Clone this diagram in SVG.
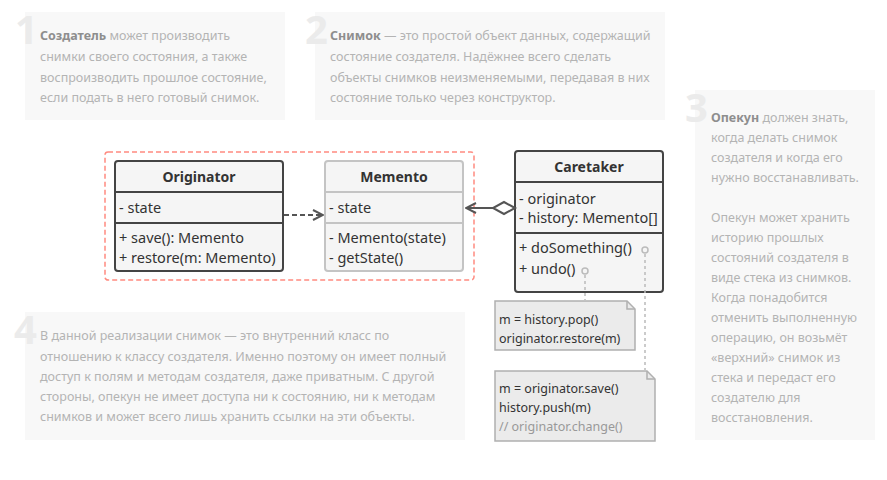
<svg xmlns="http://www.w3.org/2000/svg" width="887" height="480" viewBox="0 0 887 480">
<defs>
<style>
.panel{fill:#f8f8f8}
.num{font-family:"Open Sans","Noto Sans",sans-serif;font-weight:bold;font-size:40px;fill:#ebebeb}
.pt{font-family:"Noto Sans","Open Sans",sans-serif;font-size:12.5px;fill:#b4b4b4}
.pt .b{font-weight:bold;fill:#8e8e8e}
.box{fill:#f5f5f5;stroke:#444;stroke-width:2}
.mbox{fill:#f5f5f5;stroke:#c4c4c4;stroke-width:2}
.sep{stroke:#444;stroke-width:2}
.msep{stroke:#c4c4c4;stroke-width:2}
.hd{font-family:"Noto Sans","Open Sans",sans-serif;font-size:14px;font-weight:bold;fill:#333;text-anchor:middle}
.tx{font-family:"Noto Sans","Open Sans",sans-serif;font-size:14.5px;fill:#333}
.note{fill:#ebebeb;stroke:#b0b0b0;stroke-width:1.5}
.nt{font-family:"Noto Sans","Open Sans",sans-serif;font-size:12.5px;fill:#333}
.cm{fill:#999}
.ln{stroke:#555;stroke-width:2;fill:none}
.dot{stroke:#bbb;stroke-width:1.5;stroke-dasharray:3,3;fill:none}
</style>
<marker id="open" viewBox="0 0 12 12" refX="11" refY="6" markerWidth="12" markerHeight="12" markerUnits="userSpaceOnUse" orient="auto">
<path d="M1,1 L11,6 L1,11" fill="none" stroke="#555" stroke-width="2"/>
</marker>
</defs>

<g id="panel1">
<rect class="panel" x="25" y="12" width="260" height="108"/>
<text class="num" x="15" y="44">1</text>
<text class="pt"><tspan x="40" y="40"><tspan class="b">Создатель</tspan> может производить</tspan><tspan x="40" y="61">снимки своего состояния, а также</tspan><tspan x="40" y="82">воспроизводить прошлое состояние,</tspan><tspan x="40" y="102">если подать в него готовый снимок.</tspan></text>
</g>

<g id="panel2">
<rect class="panel" x="315" y="12" width="350" height="108"/>
<text class="num" x="305" y="44">2</text>
<text class="pt"><tspan x="330" y="40"><tspan class="b">Снимок</tspan> — это простой объект данных, содержащий</tspan><tspan x="330" y="61">состояние создателя. Надёжнее всего сделать</tspan><tspan x="330" y="82">объекты снимков неизменяемыми, передавая в них</tspan><tspan x="330" y="102">состояние только через конструктор.</tspan></text>
</g>

<g id="panel3">
<rect class="panel" x="695" y="90" width="180" height="350"/>
<text class="num" x="685" y="122">3</text>
<text class="pt"><tspan x="711" y="122"><tspan class="b">Опекун</tspan> должен знать,</tspan><tspan x="711" y="142">когда делать снимок</tspan><tspan x="711" y="162">создателя и когда его</tspan><tspan x="711" y="182">нужно восстанавливать.</tspan><tspan x="711" y="222">Опекун может хранить</tspan><tspan x="711" y="242">историю прошлых</tspan><tspan x="711" y="262">состояний создателя в</tspan><tspan x="711" y="282">виде стека из снимков.</tspan><tspan x="711" y="302">Когда понадобится</tspan><tspan x="711" y="322">отменить выполненную</tspan><tspan x="711" y="342">операцию, он возьмёт</tspan><tspan x="711" y="362">«верхний» снимок из</tspan><tspan x="711" y="382">стека и передаст его</tspan><tspan x="711" y="402">создателю для</tspan><tspan x="711" y="422">восстановления.</tspan></text>
</g>

<g id="panel4">
<rect class="panel" x="25" y="312" width="440" height="128"/>
<text class="num" x="14" y="344">4</text>
<text class="pt"><tspan x="40" y="340">В данной реализации снимок — это внутренний класс по</tspan><tspan x="40" y="361">отношению к классу создателя. Именно поэтому он имеет полный</tspan><tspan x="40" y="381">доступ к полям и методам создателя, даже приватным. С другой</tspan><tspan x="40" y="401">стороны, опекун не имеет доступа ни к состоянию, ни к методам</tspan><tspan x="40" y="421">снимков и может всего лишь хранить ссылки на эти объекты.</tspan></text>
</g>

<g id="frame">
<rect x="105" y="152" width="369" height="128" rx="3" fill="none" stroke="#ff8b80" stroke-width="1.5" stroke-dasharray="5,3"/>
</g>

<g id="originator">
<rect class="box" x="115" y="161" width="168" height="110" rx="3"/>
<line class="sep" x1="115" y1="192" x2="283" y2="192"/>
<line class="sep" x1="115" y1="223" x2="283" y2="223"/>
<text class="hd" x="199" y="182">Originator</text>
<text class="tx" x="119" y="213">- state</text>
<text class="tx" x="119" y="243">+ save(): Memento</text>
<text class="tx" x="119" y="263">+ restore(m: Memento)</text>
</g>

<g id="memento">
<rect class="mbox" x="325" y="161" width="138" height="110" rx="3"/>
<line class="msep" x1="325" y1="192" x2="463" y2="192"/>
<line class="msep" x1="325" y1="223" x2="463" y2="223"/>
<text class="hd" x="394" y="182">Memento</text>
<text class="tx" x="329" y="213">- state</text>
<text class="tx" x="329" y="243">- Memento(state)</text>
<text class="tx" x="329" y="263">- getState()</text>
</g>

<g id="caretaker">
<rect class="box" x="515" y="151" width="148" height="141" rx="3"/>
<line class="sep" x1="515" y1="182" x2="663" y2="182"/>
<line class="sep" x1="515" y1="233" x2="663" y2="233"/>
<text class="hd" x="589" y="172">Caretaker</text>
<text class="tx" x="519" y="204">- originator</text>
<text class="tx" x="519" y="223">- history: Memento[]</text>
<text class="tx" x="519" y="253">+ doSomething()</text>
<text class="tx" x="519" y="274">+ undo()</text>
<circle cx="645" cy="250" r="3" fill="none" stroke="#bbb" stroke-width="1.5"/>
<circle cx="585" cy="271" r="3" fill="none" stroke="#bbb" stroke-width="1.5"/>
</g>

<g id="note1">
<path class="note" d="M495,301 H627 L635,309 V350 H495 Z"/>
<path d="M627,301 V309 H635" fill="none" stroke="#b0b0b0" stroke-width="1.5"/>
<text class="nt" x="499" y="324">m = history.pop()</text>
<text class="nt" x="499" y="343">originator.restore(m)</text>
</g>

<g id="note2">
<path class="note" d="M495,371 H647 L655,379 V441 H495 Z"/>
<path d="M647,371 V379 H655" fill="none" stroke="#b0b0b0" stroke-width="1.5"/>
<text class="nt" x="499" y="393">m = originator.save()</text>
<text class="nt" x="499" y="412">history.push(m)</text>
<text class="nt cm" x="499" y="431">// originator.change()</text>
</g>

<g id="connectors">
<line class="ln" x1="284" y1="215" x2="323" y2="215" stroke-dasharray="5,3" marker-end="url(#open)"/>
<line class="ln" x1="493" y1="208" x2="466" y2="208" marker-end="url(#open)"/>
<path d="M515,208 L504,202 L493,208 L504,214 Z" fill="#fff" stroke="#555" stroke-width="2"/>
<line class="dot" x1="585" y1="275" x2="585" y2="300"/>
<line class="dot" x1="645" y1="254" x2="645" y2="370"/>
</g>
</svg>
